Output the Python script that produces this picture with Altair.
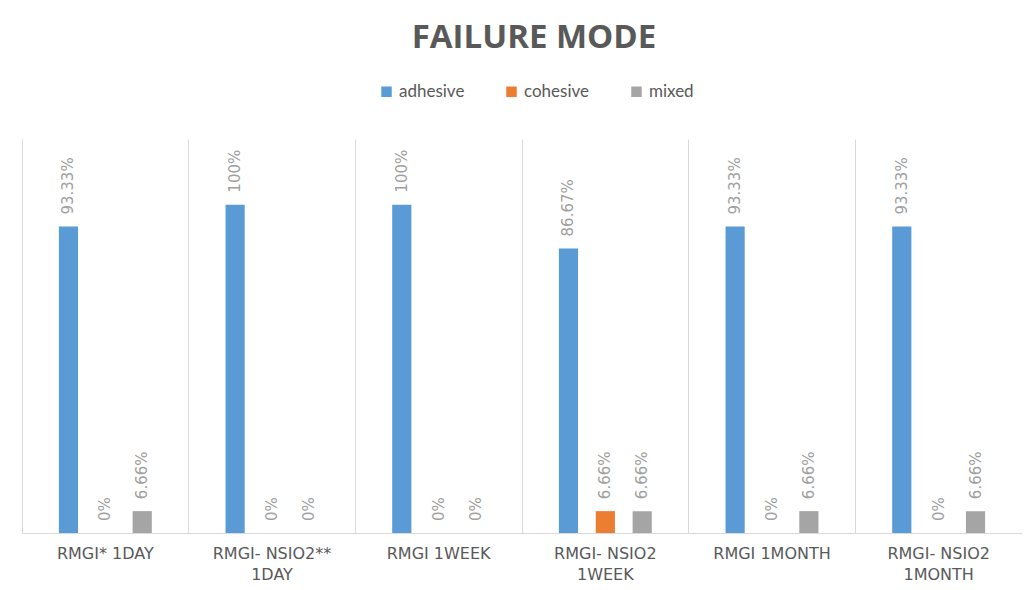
import altair as alt
import pandas as pd

categories = ["RMGI* 1DAY", "RMGI- NSIO2**|1DAY", "RMGI 1WEEK",
              "RMGI- NSIO2|1WEEK", "RMGI 1MONTH", "RMGI- NSIO2|1MONTH"]
modes = ["adhesive", "cohesive", "mixed"]
adhesive = [93.33, 100, 100, 86.67, 93.33, 93.33]
cohesive = [0, 0, 0, 6.66, 0, 0]
mixed = [6.66, 0, 0, 6.66, 6.66, 6.66]
colors = ["#5B9BD5", "#ED7D31", "#A5A5A5"]

rows = []
for i, c in enumerate(categories):
    for m, vals in zip(modes, [adhesive, cohesive, mixed]):
        rows.append({"category": c, "mode": m, "value": vals[i]})
df = pd.DataFrame(rows)

x = alt.X("category:N", sort=categories, title=None,
          scale=alt.Scale(paddingInner=0, paddingOuter=0),
          axis=alt.Axis(labelAngle=0, grid=True, bandPosition=0,
                        gridColor="#D9D9D9", domainColor="#D9D9D9",
                        ticks=False, labelPadding=12,
                        labelFont="DejaVu Sans", labelFontSize=16,
                        labelColor="#595959", labelLineHeight=21,
                        labelExpr="split(datum.label, '|')"))
xo = alt.XOffset("mode:N", sort=modes,
                 scale=alt.Scale(paddingInner=0.48, paddingOuter=1))
y = alt.Y("value:Q", scale=alt.Scale(domain=[0, 120]), axis=None)

bars = alt.Chart(df).mark_bar().encode(
    x=x, xOffset=xo, y=y,
    color=alt.Color("mode:N", sort=modes,
                    scale=alt.Scale(domain=modes, range=colors),
                    legend=alt.Legend(title=None, orient="none", direction="horizontal",
                                      legendX=356, legendY=-56,
                                      symbolType="square", symbolSize=110,
                                      symbolStrokeWidth=0,
                                      labelFont="Lato", labelFontSize=17,
                                      labelColor="#595959", columnPadding=38))
)

labels = alt.Chart(df).transform_calculate(
    lab="datum.value + '%'"
).mark_text(angle=270, align="left", baseline="middle", dx=12,
            font="DejaVu Sans", fontSize=15, color="#A0A0A0").encode(
    x=x, xOffset=xo, y=y, text="lab:N"
)

chart = alt.layer(bars, labels).properties(
    width=1000, height=394,
    title=alt.Title("FAILURE  MODE", fontSize=33, font="Open Sans",
                    fontWeight="bold", color="#595959", anchor="middle",
                    offset=28, dx=12),
    autosize=alt.AutoSizeParams(type="none"),
    padding={"left": 14, "top": 131, "right": 0, "bottom": 49},
).configure_view(stroke=None)

chart.save("out.html", embed_options={"renderer": "svg", "actions": False})
